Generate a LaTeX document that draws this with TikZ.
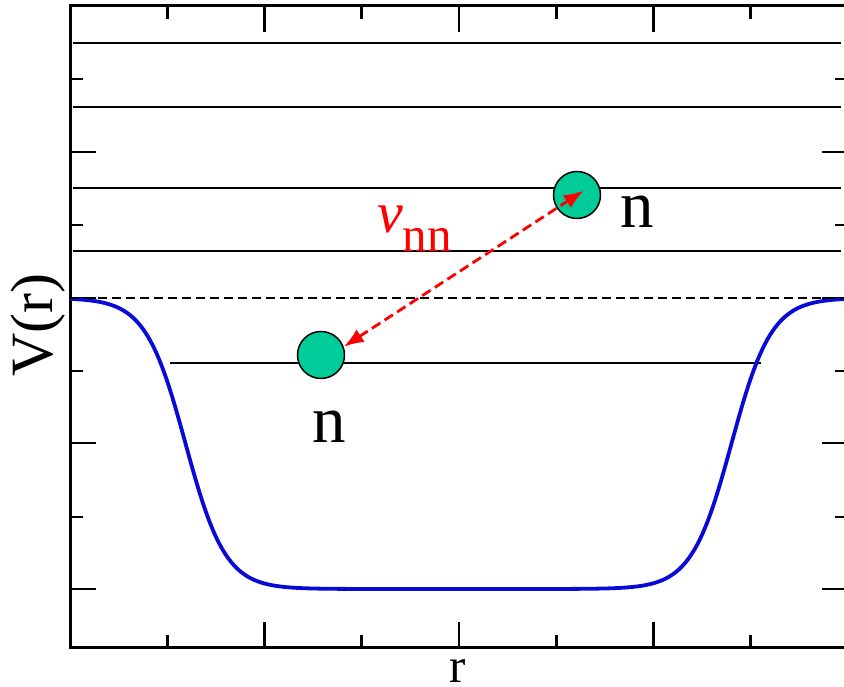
\documentclass[tikz,border=0pt]{standalone}
\usepackage{fontspec}
\setmainfont{Liberation Serif}
\newfontfamily\plotfont{Liberation Serif}
\usetikzlibrary{arrows.meta,calc,positioning}
\definecolor{wellblue}{RGB}{10,10,215}
\definecolor{nucgreen}{RGB}{0,204,153}

\begin{document}
\begin{tikzpicture}[x=1pt, y=1pt,
  frame/.style={line width=3pt},
  tick/.style={line width=2.6pt},
  level/.style={line width=2pt},
  nucleon/.style={circle, draw=black, line width=1.5pt, fill=nucgreen,
    minimum size=47pt, inner sep=0pt},
  vnn/.style={red, line width=2.8pt, dash pattern=on 10pt off 5pt,
    {Latex[length=20pt,width=15pt]}-{Latex[length=20pt,width=15pt]}},
  label/.style={inner sep=0pt, anchor=base}]
  \useasboundingbox (0,0) rectangle (844,687);
  % frame: x from 70 to 848, y from 39 to 681
  \def\xL{70}
  \def\xR{848}
  \def\yB{39}
  \def\yT{681}
  \draw[frame] (\xL,\yB) rectangle (\xR,\yT);
  % ticks
  \foreach \y/\l in {608/13,535/26,462/13,389/26,316/13,244/26,170/13,98/26} {
    \draw[tick] (\xL,\y) -- ++(\l,0);
    \draw[tick] (\xR,\y) -- ++(-\l,0);
  }
  \foreach \x/\l in {167.25/13,264.5/26,361.75/13,459/26,556.25/13,653.5/26,750.75/13} {
    \draw[tick] (\x,\yB) -- ++(0,\l);
    \draw[tick] (\x,\yT) -- ++(0,-\l);
  }
  % continuum levels
  \foreach \y in {644,580,499,436}
    \draw[level] (73,\y) -- (841,\y);
  % bound level
  \draw[level] (170,324) -- (761,324);
  % Woods-Saxon well: top 389, depth 291, R = 273, a = 20
  \draw[wellblue, line width=3.8pt] plot[domain=70:848, samples=300]
    (\x, {389 - 291/(1+exp((abs(\x-458.5)-273)/20))});
  % zero line
  \draw[line width=2.1pt, dash pattern=on 9pt off 5pt] (\xL,389) -- (\xR,389);
  % nucleons
  \node[nucleon] (nucUp) at (577,492) {};
  \node[nucleon] (nucLow) at (321,332) {};
  \draw[vnn, shorten >=-8pt] (nucLow.20) -- (nucUp.center);
  % labels
  \node[label, font=\plotfont\fontsize{67}{67}\selectfont] (nUp) at (637,459) {n};
  \node[label, font=\plotfont\fontsize{67}{67}\selectfont] (nLow) at (329,244) {n};
  \node[label, font=\plotfont\fontsize{49}{49}\selectfont] (rLab) at (458,4) {r};
  \node[label, rotate=90, font=\plotfont\fontsize{60}{60}\selectfont] (vLab) at (53,362) {V(r)};
  \node[inner sep=0pt, anchor=base west, text=red, font=\plotfont] (vnnLab) at (377,454)
    {\fontsize{58}{58}\selectfont\itshape v\raisebox{-19pt}{\fontsize{49}{49}\selectfont\upshape nn}};
\end{tikzpicture}
\end{document}
